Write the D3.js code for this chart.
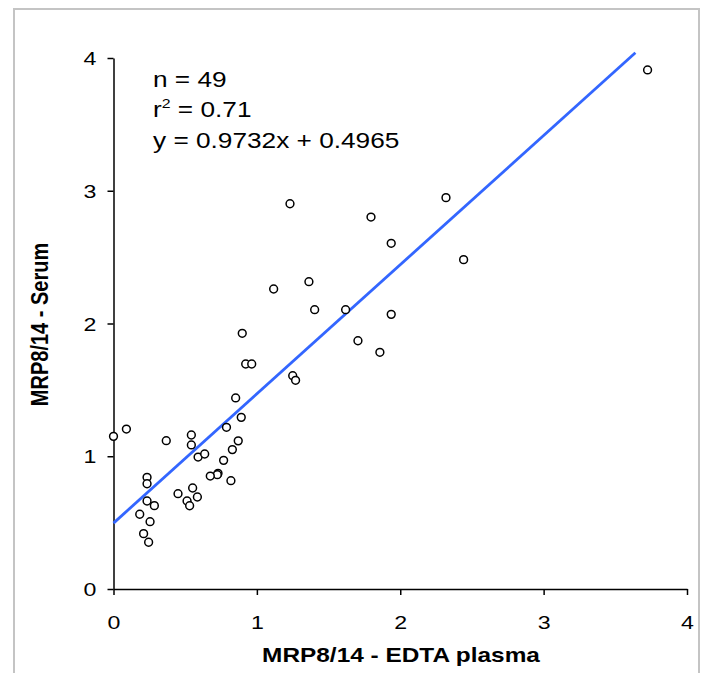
<!DOCTYPE html>
<html lang="en">
<head>
  <meta charset="UTF-8" />
  <title>MRP8/14 serum vs EDTA plasma</title>
  <script src="https://d3js.org/d3.v7.min.js"></script>
  <style>
    html, body { margin: 0; padding: 0; background: #fff; }
    svg { display: block; font-family: Arial, "Liberation Sans", sans-serif; }
    .axis path, .axis line { stroke: #000; stroke-width: 1.5px; }
    .axis text { font-size: 19px; fill: #000; }
    .title { font-size: 20px; font-weight: bold; }
    .note { font-size: 21.5px; }
  </style>
</head>
<body>
  <svg id="chart" width="708" height="673"></svg>
  <script>
    // data (EDTA plasma on x, serum on y)
    const plasma = [0, 0.09, 0.368, 0.543, 0.543, 0.59, 0.636, 0.788, 0.87, 0.829,
      0.768, 0.729, 0.724, 0.675, 0.819, 0.234, 0.234, 0.234, 0.285, 0.183,
      0.255, 0.21, 0.245, 0.45, 0.552, 0.585, 0.513, 0.531, 0.891, 0.852,
      0.922, 0.964, 0.898, 1.25, 1.27, 1.403, 1.619, 1.705, 1.231, 1.796,
      2.319, 1.937, 2.442, 1.117, 1.363, 1.937, 1.858, 3.725];
    const serum = [1.15, 1.205, 1.117, 1.16, 1.085, 0.994, 1.017, 1.218, 1.116, 1.05,
      0.969, 0.871, 0.861, 0.851, 0.816, 0.841, 0.793, 0.663, 0.628, 0.563,
      0.507, 0.417, 0.352, 0.718, 0.761, 0.693, 0.663, 0.627, 1.293, 1.439,
      1.695, 1.695, 1.926, 1.607, 1.572, 2.104, 2.104, 1.87, 2.902, 2.802,
      2.948, 2.604, 2.481, 2.26, 2.315, 2.069, 1.783, 3.91];
    const xTicks = [0, 1, 2, 3, 4];
    const yTicks = [0, 1, 2, 3, 4];
    const slope = 0.9732, intercept = 0.4965;
    const fitRange = [0, 3.64];
    const noteLines = ['n = 49', 'r2 = 0.71', 'y = 0.9732x + 0.4965'];
    const xTitle = 'MRP8/14 - EDTA plasma';
    const yTitle = 'MRP8/14 - Serum';

    const stretch = 1.22; // picture is wider than it is tall
    const svg = d3.select('#chart');
    const x = d3.scaleLinear().domain([0, 4]).range([113.5, 687]);
    const y = d3.scaleLinear().domain([0, 4]).range([589, 58]);

    // grey frame around the chart
    svg.append('rect').attr('x', 14).attr('y', 9).attr('width', 685).attr('height', 700)
      .attr('fill', 'none').attr('stroke', '#c4c4c4').attr('stroke-width', 2);

    const gx = svg.append('g').attr('class', 'axis').attr('transform', `translate(0,${y(0)})`)
      .call(d3.axisBottom(x).tickValues(xTicks).tickSize(6).tickSizeOuter(0).tickFormat(d3.format('d')));
    gx.selectAll('text').attr('y', null).attr('dy', null)
      .attr('transform', `translate(0,40) scale(${stretch},1)`);

    const gy = svg.append('g').attr('class', 'axis').attr('transform', `translate(${x(0)},0)`)
      .call(d3.axisLeft(y).tickValues(yTicks).tickSize(6).tickSizeOuter(0).tickFormat(d3.format('d')));
    gy.selectAll('text').attr('x', null)
      .attr('transform', `translate(-17,0) scale(${stretch},1)`).attr('dy', '0.35em');
    svg.selectAll('.axis .domain').attr('fill', 'none');

    // fitted line
    svg.append('line')
      .attr('x1', x(fitRange[0])).attr('y1', y(slope * fitRange[0] + intercept))
      .attr('x2', x(fitRange[1])).attr('y2', y(slope * fitRange[1] + intercept))
      .attr('stroke', '#3366ff').attr('stroke-width', 2.8);

    svg.append('g').selectAll('circle').data(plasma).join('circle')
      .attr('cx', (d, i) => x(d)).attr('cy', (d, i) => y(serum[i]))
      .attr('r', 3.9).attr('fill', '#fff').attr('stroke', '#000').attr('stroke-width', 1.5);

    // annotation block
    const baselines = [86.5, 117, 148];
    noteLines.forEach((s, i) => {
      const t = svg.append('text').attr('class', 'note')
        .attr('transform', `translate(153,${baselines[i]}) scale(${stretch},1)`);
      if (s.startsWith('r2')) {
        t.append('tspan').text('r');
        t.append('tspan').attr('font-size', '13px').attr('dy', '-9').text('2');
        t.append('tspan').attr('dy', '9').text(' = 0.71');
      } else {
        t.text(s);
      }
    });

    svg.append('text').attr('class', 'title').attr('text-anchor', 'middle')
      .attr('transform', `translate(401,662) scale(${stretch},1)`).text(xTitle);
    svg.append('text').attr('class', 'title').attr('text-anchor', 'middle')
      .attr('transform', `translate(48,324.5) scale(${stretch},1) rotate(-90)`).text(yTitle);
  </script>
</body>
</html>
